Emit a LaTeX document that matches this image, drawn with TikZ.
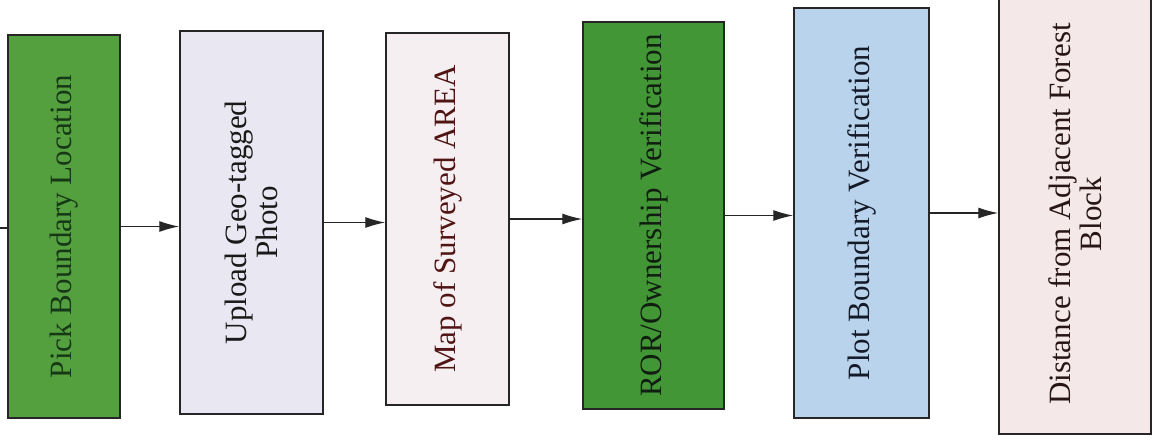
\documentclass[tikz,border=0pt]{standalone}
\usepackage{fontspec}
\setmainfont{Liberation Serif}
\usetikzlibrary{arrows.meta}
\definecolor{pickfill}{RGB}{84,160,62}
\definecolor{picktext}{RGB}{22,56,22}
\definecolor{uploadfill}{RGB}{233,231,241}
\definecolor{mapfill}{RGB}{246,239,241}
\definecolor{maptext}{RGB}{80,20,20}
\definecolor{rorfill}{RGB}{66,150,54}
\definecolor{rortext}{RGB}{16,30,16}
\definecolor{plotfill}{RGB}{184,211,235}
\definecolor{plottext}{RGB}{20,25,40}
\definecolor{distfill}{RGB}{244,232,232}
\definecolor{disttext}{RGB}{40,22,22}

\begin{document}
\begin{tikzpicture}[x=1pt, y=-1pt,
  stagebox/.style={draw=black!85, line width=1.5pt, rotate=90, align=center,
    inner sep=0pt, text=black!90, font=\fontsize{31}{31}\selectfont},
  flow/.style={-{Latex[length=20pt,width=11pt]}, line width=1.3pt, draw=black!85}
  ]
  \useasboundingbox (0,0) rectangle (1153,444);
  % boxes are turned, so north is the left side and south the right side
  \node[stagebox, fill=pickfill, text=picktext, minimum width=383pt, minimum height=112pt]
    (pick) at (64,226.5) {Pick Boundary Location};
  \node[stagebox, fill=uploadfill, minimum width=383pt, minimum height=143pt]
    (upload) at (251.5,222.5) {Upload Geo-tagged\\Photo};
  \node[stagebox, fill=mapfill, text=maptext, minimum width=372pt, minimum height=123pt]
    (map) at (447.5,219) {Map of Surveyed AREA};
  \node[stagebox, fill=rorfill, text=rortext, minimum width=387pt, minimum height=141pt]
    (ror) at (653.5,215.5) {ROR/Ownership Verification};
  \node[stagebox, fill=plotfill, text=plottext, minimum width=410pt, minimum height=135pt]
    (plot) at (861.5,213) {Plot Boundary Verification};
  \node[stagebox, fill=distfill, text=disttext, minimum width=440pt, minimum height=152pt]
    (dist) at (1075,214) {Distance from Adjacent Forest\\Block};

  \coordinate (start) at (0,228);
  \draw[line width=1.3pt, draw=black!85] (start) -- (start -| pick.north);
  \draw[flow] (pick.south) -- (pick.south -| upload.north);
  \draw[flow] (upload.south) -- (upload.south -| map.north);
  \draw[flow] (map.south) -- (map.south -| ror.north);
  \draw[flow] (ror.south) -- (ror.south -| plot.north);
  \draw[flow] (plot.south) -- (plot.south -| dist.north);
\end{tikzpicture}
\end{document}
